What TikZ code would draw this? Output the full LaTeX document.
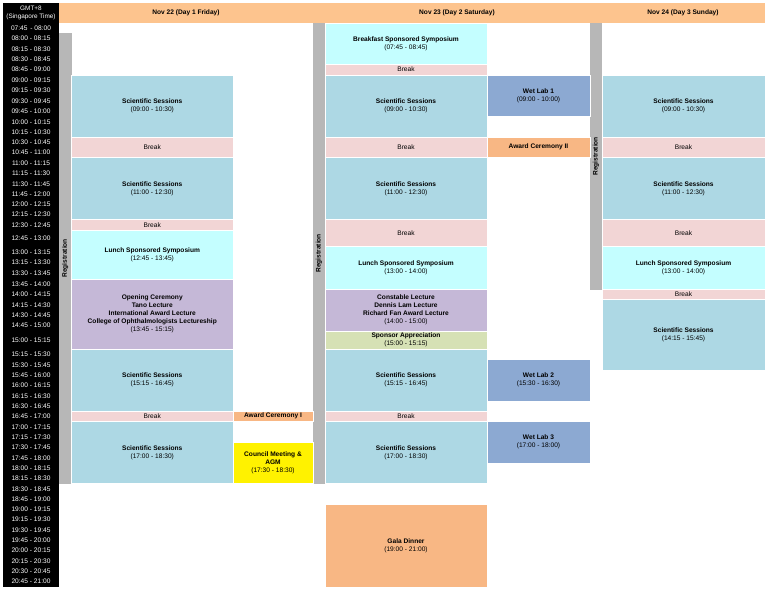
\documentclass[tikz,border=0pt]{standalone}
\usepackage{fontspec}
\setmainfont{Liberation Sans}
\usetikzlibrary{positioning}

\definecolor{sci}{HTML}{ADD8E4}
\definecolor{brk}{HTML}{F2D5D5}
\definecolor{spon}{HTML}{C4FEFF}
\definecolor{lect}{HTML}{C5B8D7}
\definecolor{hdr}{HTML}{FDC48E}
\definecolor{reg}{HTML}{B7B7B7}
\definecolor{cer}{HTML}{F8B784}
\definecolor{lab}{HTML}{8CA9D2}
\definecolor{appr}{HTML}{D6E1B5}

% row boundaries, 07:45 ... 21:00
\def\by{{23,33,43.5,54,64,75,85,96,106,116.5,127,137,147,157.5,168,178.5,189,199,209.5,219.5,230,246.5,257,268,279,289.5,299.5,310,320,331,349,359.5,370,380,390.5,401,411,421.5,432,442,452.5,463,473,483.5,494,504,514,524.5,535,545,555.5,566,576,587}}

% name, x left, x right, from row, to row, style, text
\newcommand\slot[7]{%
  \pgfmathsetmacro\ya{\by[#4]}\pgfmathsetmacro\yb{\by[#5]}%
  \node[#6, minimum width={(#3-#2)*1pt}, minimum height={(\yb-\ya)*1pt}]
    (#1) at ({(#2+#3)/2},{-(\ya+\yb)/2}) {#7};}

\begin{document}
\begin{tikzpicture}[x=1pt,y=1pt,
    font=\fontsize{6.6}{8}\selectfont,
    box/.style={draw=white, line width=0.6pt, inner sep=0pt, outer sep=0pt, align=center},
    sci/.style={box, fill=sci},
    brk/.style={box, fill=brk},
    spon/.style={box, fill=spon},
    lect/.style={box, fill=lect},
    cer/.style={box, fill=cer, font=\fontsize{6.6}{8}\selectfont\bfseries},
    lab/.style={box, fill=lab},
    appr/.style={box, fill=appr},
    agm/.style={box, fill=yellow},
    reg/.style={box, fill=reg, draw=none, font=\fontsize{6.6}{8}\selectfont\bfseries},
    hdr/.style={box, fill=hdr, draw=none, font=\fontsize{6.6}{8}\selectfont\bfseries},
    tm/.style={text=white, inner sep=0pt}]
\useasboundingbox (0,0) rectangle (768,-591);

% time column
\fill[black] (3,-3) rectangle (59,-587);
\node[tm, align=center, font=\fontsize{6.4}{8.5}\selectfont] (gmt) at (31,-13) {GMT+8\\(Singapore Time)};
\foreach \t [count=\i from 0] in {07:45 \,- 08:00,08:00 - 08:15,08:15 - 08:30,08:30 - 08:45,08:45 - 09:00,
  09:00 - 09:15,09:15 - 09:30,09:30 - 09:45,09:45 - 10:00,10:00 - 10:15,10:15 - 10:30,10:30 - 10:45,10:45 - 11:00,
  11:00 - 11:15,11:15 - 11:30,11:30 - 11:45,11:45 - 12:00,12:00 - 12:15,12:15 - 12:30,12:30 - 12:45,12:45 - 13:00,
  13:00 - 13:15,13:15 - 13:30,13:30 - 13:45,13:45 - 14:00,14:00 - 14:15,14:15 - 14:30,14:30 - 14:45,14:45 - 15:00,
  15:00 - 15:15,15:15 - 15:30,15:30 - 15:45,15:45 - 16:00,16:00 - 16:15,16:15 - 16:30,16:30 - 16:45,16:45 - 17:00,
  17:00 - 17:15,17:15 - 17:30,17:30 - 17:45,17:45 - 18:00,18:00 - 18:15,18:15 - 18:30,18:30 - 18:45,18:45 - 19:00,
  19:00 - 19:15,19:15 - 19:30,19:30 - 19:45,19:45 - 20:00,20:00 - 20:15,20:15 - 20:30,20:30 - 20:45,20:45 - 21:00}{
  \pgfmathsetmacro\ya{\by[\i]}\pgfmathtruncatemacro\j{\i+1}\pgfmathsetmacro\yb{\by[\j]}
  \node[tm] (t\i) at (31,{-(\ya+\yb)/2}) {\t};
}

% headers
\fill[hdr] (59,-3) rectangle (765,-23);
\node[hdr] (d1) at (186,-13) {Nov 22 (Day 1 Friday)};
\node[hdr] (d2) at (457,-13) {Nov 23 (Day 2 Saturday)};
\node[hdr] (d3) at (683,-13) {Nov 24 (Day 3 Sunday)};

% registration
\slot{r1}{59}{71.5}{1}{43}{reg}{\rotatebox{90}{Registration}}
\slot{r2}{313}{325}{0}{43}{reg}{\rotatebox{90}{Registration}}
\slot{r3}{590}{602}{0}{25}{reg}{\rotatebox{90}{Registration}}

% day 1
\slot{a1}{71.5}{233}{5}{11}{sci}{\textbf{Scientific Sessions}\\(09:00 - 10:30)}
\slot{a2}{71.5}{233}{11}{13}{brk}{Break}
\slot{a3}{71.5}{233}{13}{19}{sci}{\textbf{Scientific Sessions}\\(11:00 - 12:30)}
\slot{a4}{71.5}{233}{19}{20}{brk}{Break}
\slot{a5}{71.5}{233}{20}{24}{spon}{\textbf{Lunch Sponsored Symposium}\\(12:45 - 13:45)}
\slot{a6}{71.5}{233}{24}{30}{lect}{\textbf{Opening Ceremony}\\\textbf{Tano Lecture}\\\textbf{International Award Lecture}\\\textbf{College of Ophthalmologists Lectureship}\\(13:45 - 15:15)}
\slot{a7}{71.5}{233}{30}{36}{sci}{\textbf{Scientific Sessions}\\(15:15 - 16:45)}
\slot{a8}{71.5}{233}{36}{37}{brk}{Break}
\slot{a9}{71.5}{233}{37}{43}{sci}{\textbf{Scientific Sessions}\\(17:00 - 18:30)}
\slot{b1}{233}{313}{36}{37}{cer}{Award Ceremony I}
\slot{b2}{233}{313}{39}{43}{agm}{\textbf{Council Meeting \&}\\\textbf{AGM}\\(17:30 - 18:30)}

% day 2
\slot{c1}{325}{487}{0}{4}{spon}{\textbf{Breakfast Sponsored Symposium}\\(07:45 - 08:45)}
\slot{c2}{325}{487}{4}{5}{brk}{Break}
\slot{c3}{325}{487}{5}{11}{sci}{\textbf{Scientific Sessions}\\(09:00 - 10:30)}
\slot{c4}{325}{487}{11}{13}{brk}{Break}
\slot{c5}{325}{487}{13}{19}{sci}{\textbf{Scientific Sessions}\\(11:00 - 12:30)}
\slot{c6}{325}{487}{19}{21}{brk}{Break}
\slot{c7}{325}{487}{21}{25}{spon}{\textbf{Lunch Sponsored Symposium}\\(13:00 - 14:00)}
\slot{c8}{325}{487}{25}{29}{lect}{\textbf{Constable Lecture}\\\textbf{Dennis Lam Lecture}\\\textbf{Richard Fan Award Lecture}\\(14:00 - 15:00)}
\slot{c9}{325}{487}{29}{30}{appr}{\textbf{Sponsor Appreciation}\\(15:00 - 15:15)}
\slot{c10}{325}{487}{30}{36}{sci}{\textbf{Scientific Sessions}\\(15:15 - 16:45)}
\slot{c11}{325}{487}{36}{37}{brk}{Break}
\slot{c12}{325}{487}{37}{43}{sci}{\textbf{Scientific Sessions}\\(17:00 - 18:30)}
\slot{c13}{325}{487}{45}{53}{box, fill=cer}{\textbf{Gala Dinner}\\(19:00 - 21:00)}
\slot{e1}{487}{590}{5}{9}{lab}{\textbf{Wet Lab 1}\\(09:00 - 10:00)}
\slot{e2}{487}{590}{11}{13}{cer}{Award Ceremony II}
\slot{e3}{487}{590}{31}{35}{lab}{\textbf{Wet Lab 2}\\(15:30 - 16:30)}
\slot{e4}{487}{590}{37}{41}{lab}{\textbf{Wet Lab 3}\\(17:00 - 18:00)}

% day 3
\slot{f1}{602}{765}{5}{11}{sci}{\textbf{Scientific Sessions}\\(09:00 - 10:30)}
\slot{f2}{602}{765}{11}{13}{brk}{Break}
\slot{f3}{602}{765}{13}{19}{sci}{\textbf{Scientific Sessions}\\(11:00 - 12:30)}
\slot{f4}{602}{765}{19}{21}{brk}{Break}
\slot{f5}{602}{765}{21}{25}{spon}{\textbf{Lunch Sponsored Symposium}\\(13:00 - 14:00)}
\slot{f6}{602}{765}{25}{26}{brk}{Break}
\slot{f7}{602}{765}{26}{32}{sci}{\textbf{Scientific Sessions}\\(14:15 - 15:45)}
\end{tikzpicture}
\end{document}
